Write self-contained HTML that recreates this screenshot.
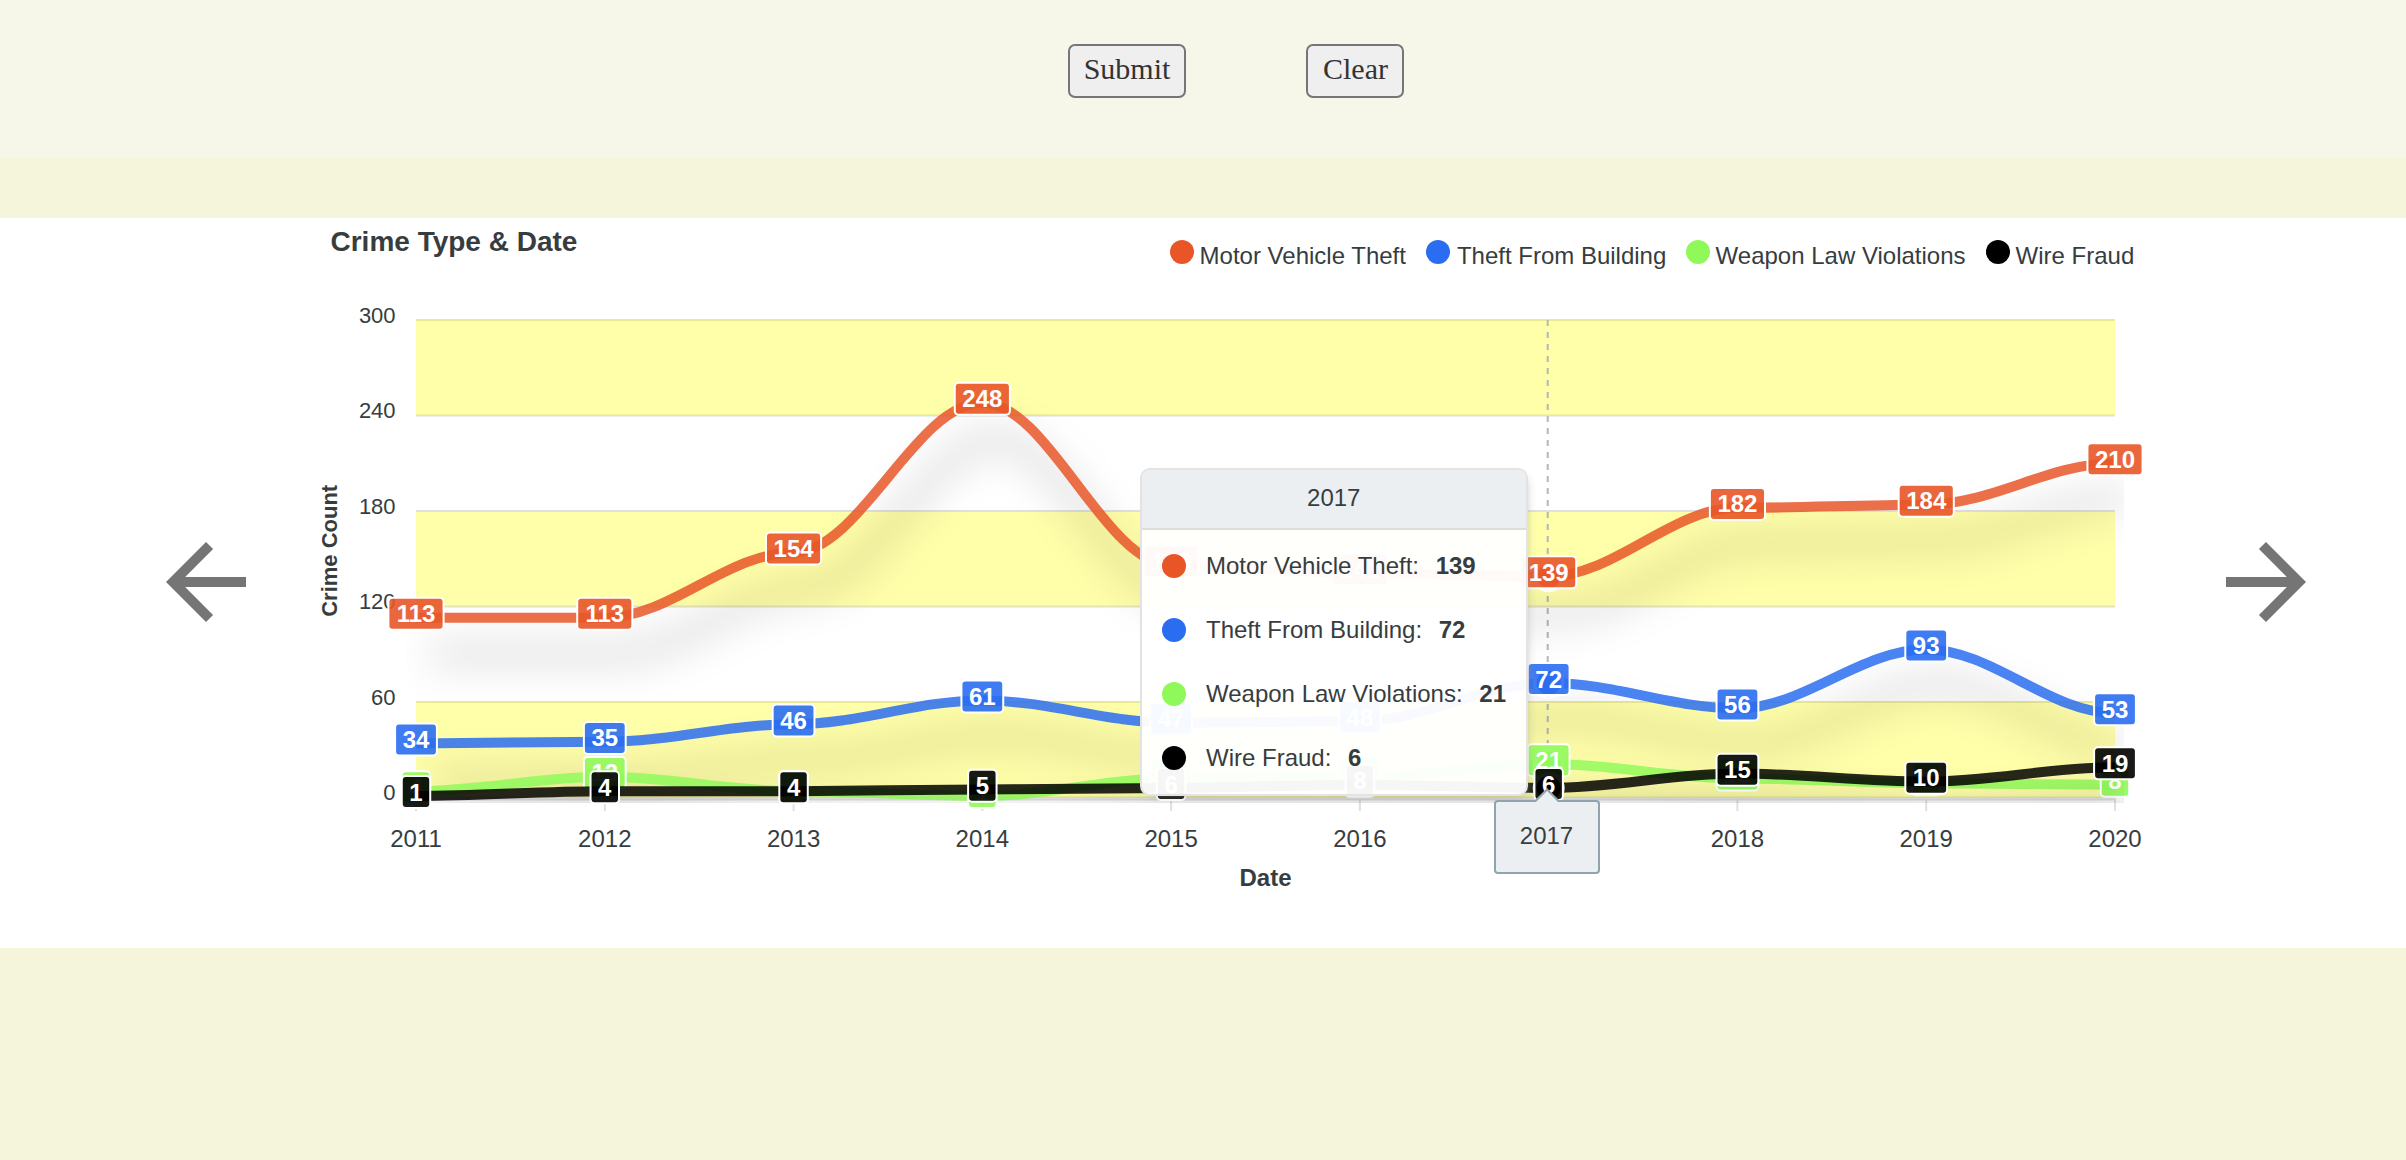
<!DOCTYPE html>
<html lang="en"><head><meta charset="utf-8"><title>Crime Type &amp; Date</title>
<style>
html,body{margin:0;padding:0}
body{width:2406px;height:1160px;background:#f5f5dc;position:relative;overflow:hidden;font-family:"Liberation Serif","Times New Roman",serif}
.top{position:absolute;left:0;top:0;width:2406px;height:158px;background:#f7f7e9}
.white{position:absolute;left:0;top:218px;width:2406px;height:730px;background:#fff}
button{position:absolute;box-sizing:border-box;top:44px;height:54px;font-family:"Liberation Serif","Times New Roman",serif;font-size:30px;color:#333;background:#efefef;border:2px solid #767676;border-radius:7px;padding:0 0 5px 1px;margin:0;text-align:center;line-height:43px}
.arrow{position:absolute;top:522px;width:120px;height:120px}
.tip{position:absolute;left:1140px;top:468px;width:387.5px;height:327.5px;box-sizing:border-box;border:2px solid #e3e3e3;border-radius:10px;background:rgba(255,255,255,.96);box-shadow:4px 4px 12px -8px #999;font-family:"Liberation Sans",Helvetica,Arial,sans-serif;font-size:24px;color:#373d3f;overflow:hidden}
.tip .ttl{height:57.5px;background:#eceff1;border-bottom:2px solid #ddd;text-align:center;line-height:55px}
.tip .row{position:absolute;left:0;height:64px;width:100%;white-space:nowrap}
.tip .row i{position:absolute;left:20px;top:20px;width:24px;height:24px;border-radius:50%}
.tip .row span{position:absolute;left:64px;top:0;line-height:64px}
.tip .row b{font-weight:bold;margin-left:10px}
.xtip{position:absolute;left:1493.5px;top:799.5px;width:106px;height:74px;box-sizing:border-box;background:#eceff1;border:2px solid #90a4ae;border-radius:4px;font-family:"Liberation Sans",Helvetica,Arial,sans-serif;font-size:24px;color:#373d3f;text-align:center;line-height:68px}
.xtip:before{content:"";position:absolute;left:50%;top:-14px;margin-left:-12px;border:12px solid transparent;border-top:0;border-bottom:12px solid #90a4ae}
.xtip:after{content:"";position:absolute;left:50%;top:-11px;margin-left:-12px;border:12px solid transparent;border-top:0;border-bottom:12px solid #eceff1}
</style></head><body>
<div class="top"></div>
<button style="left:1067.5px;width:118px">Submit</button>
<button style="left:1306px;width:98px">Clear</button>
<div class="white"></div>
<svg class="arrow" style="left:146px" viewBox="0 0 24 24"><path fill="#757575" d="M20 11H7.83l5.59-5.59L12 4l-8 8 8 8 1.41-1.41L7.83 13H20v-2z"/></svg>
<svg class="arrow" style="left:2206px" viewBox="0 0 24 24"><path fill="#757575" d="M12 4l-1.41 1.41L16.17 11H4v2h12.17l-5.58 5.59L12 20l8-8z"/></svg>
<svg width="2406" height="730" viewBox="0 218 2406 730" style="position:absolute;left:0;top:218px;font-family:'Liberation Sans', Helvetica, Arial, sans-serif">
<defs>
<clipPath id="gclip"><rect x="407.0" y="311.0" width="1717.0" height="492.0"/></clipPath>
<filter id="ds" filterUnits="userSpaceOnUse" x="300" y="200" width="1900" height="700" color-interpolation-filters="sRGB"><feFlood flood-color="#000" flood-opacity="0.34" result="f"/><feComposite in="f" in2="SourceAlpha" operator="in" result="c"/><feOffset in="c" dx="14" dy="36" result="o"/><feGaussianBlur in="o" stdDeviation="20" result="b"/><feMerge><feMergeNode in="b"/><feMergeNode in="SourceGraphic"/></feMerge></filter>
</defs>
<text x="330.5" y="251" font-size="28" font-weight="bold" fill="#373d3f">Crime Type &amp; Date</text>
<circle cx="1182.0" cy="252" r="12" fill="#E85628"/>
<text x="1199.6" y="264" font-size="24" fill="#373d3f">Motor Vehicle Theft</text>
<circle cx="1438.0" cy="252" r="12" fill="#2A6DF0"/>
<text x="1456.9" y="264" font-size="24" fill="#373d3f">Theft From Building</text>
<circle cx="1698.0" cy="252" r="12" fill="#90F95A"/>
<text x="1715.6" y="264" font-size="24" fill="#373d3f">Weapon Law Violations</text>
<circle cx="1998.0" cy="252" r="12" fill="#000000"/>
<text x="2015.6" y="264" font-size="24" fill="#373d3f">Wire Fraud</text>
<rect x="416.0" y="319.00" width="1699.0" height="2" fill="#e0e0e0"/>
<rect x="416.0" y="414.50" width="1699.0" height="2" fill="#e0e0e0"/>
<rect x="416.0" y="510.00" width="1699.0" height="2" fill="#e0e0e0"/>
<rect x="416.0" y="605.50" width="1699.0" height="2" fill="#e0e0e0"/>
<rect x="416.0" y="701.00" width="1699.0" height="2" fill="#e0e0e0"/>
<rect x="416.0" y="796.50" width="1699.0" height="2" fill="#e0e0e0"/>
<rect x="416.0" y="320.0" width="1699.0" height="95.5" fill="#ffff00" fill-opacity="0.335"/>
<rect x="416.0" y="511.0" width="1699.0" height="95.5" fill="#ffff00" fill-opacity="0.335"/>
<rect x="416.0" y="702.0" width="1699.0" height="95.5" fill="#ffff00" fill-opacity="0.335"/>
<rect x="416.0" y="798.5" width="1699.0" height="2" fill="#e0e0e0"/>
<rect x="415.0" y="798" width="2" height="13" fill="#e0e0e0"/>
<rect x="603.8" y="798" width="2" height="13" fill="#e0e0e0"/>
<rect x="792.6" y="798" width="2" height="13" fill="#e0e0e0"/>
<rect x="981.3" y="798" width="2" height="13" fill="#e0e0e0"/>
<rect x="1170.1" y="798" width="2" height="13" fill="#e0e0e0"/>
<rect x="1358.9" y="798" width="2" height="13" fill="#e0e0e0"/>
<rect x="1547.7" y="798" width="2" height="13" fill="#e0e0e0"/>
<rect x="1736.4" y="798" width="2" height="13" fill="#e0e0e0"/>
<rect x="1925.2" y="798" width="2" height="13" fill="#e0e0e0"/>
<rect x="2114.0" y="798" width="2" height="13" fill="#e0e0e0"/>
<text x="395.6" y="322.8" font-size="22" text-anchor="end" fill="#373d3f">300</text>
<text x="395.6" y="418.3" font-size="22" text-anchor="end" fill="#373d3f">240</text>
<text x="395.6" y="513.8" font-size="22" text-anchor="end" fill="#373d3f">180</text>
<text x="395.6" y="609.3" font-size="22" text-anchor="end" fill="#373d3f">120</text>
<text x="395.6" y="704.8" font-size="22" text-anchor="end" fill="#373d3f">60</text>
<text x="395.6" y="800.3" font-size="22" text-anchor="end" fill="#373d3f">0</text>
<text transform="translate(337 550.8) rotate(-90)" font-size="22" font-weight="bold" text-anchor="middle" fill="#373d3f">Crime Count</text>
<text x="416.0" y="846.9" font-size="24" text-anchor="middle" fill="#373d3f">2011</text>
<text x="604.8" y="846.9" font-size="24" text-anchor="middle" fill="#373d3f">2012</text>
<text x="793.6" y="846.9" font-size="24" text-anchor="middle" fill="#373d3f">2013</text>
<text x="982.3" y="846.9" font-size="24" text-anchor="middle" fill="#373d3f">2014</text>
<text x="1171.1" y="846.9" font-size="24" text-anchor="middle" fill="#373d3f">2015</text>
<text x="1359.9" y="846.9" font-size="24" text-anchor="middle" fill="#373d3f">2016</text>
<text x="1737.4" y="846.9" font-size="24" text-anchor="middle" fill="#373d3f">2018</text>
<text x="1926.2" y="846.9" font-size="24" text-anchor="middle" fill="#373d3f">2019</text>
<text x="2115.0" y="846.9" font-size="24" text-anchor="middle" fill="#373d3f">2020</text>
<text x="1265.5" y="886" font-size="24" font-weight="bold" text-anchor="middle" fill="#373d3f">Date</text>
<line x1="1547.7" y1="320" x2="1547.7" y2="797.5" stroke="#b6b6b6" stroke-width="2" stroke-dasharray="6 6"/>
<g clip-path="url(#gclip)"><path d="M416.00 617.64C482.07 617.64 538.71 617.64 604.78 617.64C670.85 617.64 727.48 552.38 793.56 552.38C859.63 552.38 916.26 402.77 982.33 402.77C1048.41 402.77 1105.04 565.12 1171.11 565.12C1237.18 565.12 1293.82 573.08 1359.89 573.08C1425.96 573.08 1482.59 576.26 1548.67 576.26C1614.74 576.26 1671.37 507.82 1737.44 507.82C1803.52 507.82 1860.15 504.63 1926.22 504.63C1992.29 504.63 2048.93 463.25 2115.00 463.25" fill="none" stroke="#E85628" stroke-opacity="0.85" stroke-width="10" stroke-linecap="butt" filter="url(#ds)"/></g>
<circle cx="1548.7" cy="576.3" r="14" fill="#E85628" stroke="#fff" stroke-width="4" opacity="0.9"/>
<rect x="388.43" y="597.74" width="55.15" height="32.00" rx="4" fill="#E85628" fill-opacity="0.9" stroke="#fff" stroke-width="2"/>
<text x="416.00" y="622.24" font-size="24" font-weight="bold" text-anchor="middle" fill="#fff">113</text>
<rect x="577.20" y="597.74" width="55.15" height="32.00" rx="4" fill="#E85628" fill-opacity="0.9" stroke="#fff" stroke-width="2"/>
<text x="604.78" y="622.24" font-size="24" font-weight="bold" text-anchor="middle" fill="#fff">113</text>
<rect x="765.98" y="532.48" width="55.15" height="32.00" rx="4" fill="#E85628" fill-opacity="0.9" stroke="#fff" stroke-width="2"/>
<text x="793.56" y="556.98" font-size="24" font-weight="bold" text-anchor="middle" fill="#fff">154</text>
<rect x="954.76" y="382.87" width="55.15" height="32.00" rx="4" fill="#E85628" fill-opacity="0.9" stroke="#fff" stroke-width="2"/>
<text x="982.33" y="407.37" font-size="24" font-weight="bold" text-anchor="middle" fill="#fff">248</text>
<rect x="1143.54" y="545.22" width="55.15" height="32.00" rx="4" fill="#E85628" fill-opacity="0.9" stroke="#fff" stroke-width="2"/>
<text x="1171.11" y="569.72" font-size="24" font-weight="bold" text-anchor="middle" fill="#fff">146</text>
<rect x="1332.31" y="553.18" width="55.15" height="32.00" rx="4" fill="#E85628" fill-opacity="0.9" stroke="#fff" stroke-width="2"/>
<text x="1359.89" y="577.68" font-size="24" font-weight="bold" text-anchor="middle" fill="#fff">141</text>
<rect x="1521.09" y="556.36" width="55.15" height="32.00" rx="4" fill="#E85628" fill-opacity="0.9" stroke="#fff" stroke-width="2"/>
<text x="1548.67" y="580.86" font-size="24" font-weight="bold" text-anchor="middle" fill="#fff">139</text>
<rect x="1709.87" y="487.92" width="55.15" height="32.00" rx="4" fill="#E85628" fill-opacity="0.9" stroke="#fff" stroke-width="2"/>
<text x="1737.44" y="512.42" font-size="24" font-weight="bold" text-anchor="middle" fill="#fff">182</text>
<rect x="1898.65" y="484.73" width="55.15" height="32.00" rx="4" fill="#E85628" fill-opacity="0.9" stroke="#fff" stroke-width="2"/>
<text x="1926.22" y="509.23" font-size="24" font-weight="bold" text-anchor="middle" fill="#fff">184</text>
<rect x="2087.43" y="443.35" width="55.15" height="32.00" rx="4" fill="#E85628" fill-opacity="0.9" stroke="#fff" stroke-width="2"/>
<text x="2115.00" y="467.85" font-size="24" font-weight="bold" text-anchor="middle" fill="#fff">210</text>
<g clip-path="url(#gclip)"><path d="M416.00 743.38C482.07 743.38 538.71 741.79 604.78 741.79C670.85 741.79 727.48 724.28 793.56 724.28C859.63 724.28 916.26 700.41 982.33 700.41C1048.41 700.41 1105.04 722.69 1171.11 722.69C1237.18 722.69 1293.82 721.10 1359.89 721.10C1425.96 721.10 1482.59 682.90 1548.67 682.90C1614.74 682.90 1671.37 708.37 1737.44 708.37C1803.52 708.37 1860.15 649.48 1926.22 649.48C1992.29 649.48 2048.93 713.14 2115.00 713.14" fill="none" stroke="#2A6DF0" stroke-opacity="0.85" stroke-width="10" stroke-linecap="butt" filter="url(#ds)"/></g>
<circle cx="1548.7" cy="682.9" r="14" fill="#2A6DF0" stroke="#fff" stroke-width="4" opacity="0.9"/>
<rect x="395.10" y="723.48" width="41.80" height="32.00" rx="4" fill="#2A6DF0" fill-opacity="0.9" stroke="#fff" stroke-width="2"/>
<text x="416.00" y="747.98" font-size="24" font-weight="bold" text-anchor="middle" fill="#fff">34</text>
<rect x="583.88" y="721.89" width="41.80" height="32.00" rx="4" fill="#2A6DF0" fill-opacity="0.9" stroke="#fff" stroke-width="2"/>
<text x="604.78" y="746.39" font-size="24" font-weight="bold" text-anchor="middle" fill="#fff">35</text>
<rect x="772.66" y="704.38" width="41.80" height="32.00" rx="4" fill="#2A6DF0" fill-opacity="0.9" stroke="#fff" stroke-width="2"/>
<text x="793.56" y="728.88" font-size="24" font-weight="bold" text-anchor="middle" fill="#fff">46</text>
<rect x="961.43" y="680.51" width="41.80" height="32.00" rx="4" fill="#2A6DF0" fill-opacity="0.9" stroke="#fff" stroke-width="2"/>
<text x="982.33" y="705.01" font-size="24" font-weight="bold" text-anchor="middle" fill="#fff">61</text>
<rect x="1150.21" y="702.79" width="41.80" height="32.00" rx="4" fill="#2A6DF0" fill-opacity="0.9" stroke="#fff" stroke-width="2"/>
<text x="1171.11" y="727.29" font-size="24" font-weight="bold" text-anchor="middle" fill="#fff">47</text>
<rect x="1338.99" y="701.20" width="41.80" height="32.00" rx="4" fill="#2A6DF0" fill-opacity="0.9" stroke="#fff" stroke-width="2"/>
<text x="1359.89" y="725.70" font-size="24" font-weight="bold" text-anchor="middle" fill="#fff">48</text>
<rect x="1527.77" y="663.00" width="41.80" height="32.00" rx="4" fill="#2A6DF0" fill-opacity="0.9" stroke="#fff" stroke-width="2"/>
<text x="1548.67" y="687.50" font-size="24" font-weight="bold" text-anchor="middle" fill="#fff">72</text>
<rect x="1716.54" y="688.47" width="41.80" height="32.00" rx="4" fill="#2A6DF0" fill-opacity="0.9" stroke="#fff" stroke-width="2"/>
<text x="1737.44" y="712.97" font-size="24" font-weight="bold" text-anchor="middle" fill="#fff">56</text>
<rect x="1905.32" y="629.58" width="41.80" height="32.00" rx="4" fill="#2A6DF0" fill-opacity="0.9" stroke="#fff" stroke-width="2"/>
<text x="1926.22" y="654.08" font-size="24" font-weight="bold" text-anchor="middle" fill="#fff">93</text>
<rect x="2094.10" y="693.24" width="41.80" height="32.00" rx="4" fill="#2A6DF0" fill-opacity="0.9" stroke="#fff" stroke-width="2"/>
<text x="2115.00" y="717.74" font-size="24" font-weight="bold" text-anchor="middle" fill="#fff">53</text>
<g clip-path="url(#gclip)"><path d="M416.00 791.13C482.07 791.13 538.71 776.81 604.78 776.81C670.85 776.81 727.48 791.13 793.56 791.13C859.63 791.13 916.26 795.91 982.33 795.91C1048.41 795.91 1105.04 778.40 1171.11 778.40C1237.18 778.40 1293.82 776.81 1359.89 776.81C1425.96 776.81 1482.59 764.08 1548.67 764.08C1614.74 764.08 1671.37 778.40 1737.44 778.40C1803.52 778.40 1860.15 783.17 1926.22 783.17C1992.29 783.17 2048.93 784.77 2115.00 784.77" fill="none" stroke="#90F95A" stroke-opacity="0.85" stroke-width="10" stroke-linecap="butt" filter="url(#ds)"/></g>
<circle cx="1548.7" cy="764.1" r="14" fill="#90F95A" stroke="#fff" stroke-width="4" opacity="0.9"/>
<rect x="401.77" y="771.23" width="28.45" height="32.00" rx="4" fill="#90F95A" fill-opacity="0.9" stroke="#fff" stroke-width="2"/>
<text x="416.00" y="795.73" font-size="24" font-weight="bold" text-anchor="middle" fill="#fff">4</text>
<rect x="583.88" y="756.91" width="41.80" height="32.00" rx="4" fill="#90F95A" fill-opacity="0.9" stroke="#fff" stroke-width="2"/>
<text x="604.78" y="781.41" font-size="24" font-weight="bold" text-anchor="middle" fill="#fff">13</text>
<rect x="779.33" y="771.23" width="28.45" height="32.00" rx="4" fill="#90F95A" fill-opacity="0.9" stroke="#fff" stroke-width="2"/>
<text x="793.56" y="795.73" font-size="24" font-weight="bold" text-anchor="middle" fill="#fff">4</text>
<rect x="968.11" y="776.01" width="28.45" height="32.00" rx="4" fill="#90F95A" fill-opacity="0.9" stroke="#fff" stroke-width="2"/>
<text x="982.33" y="800.51" font-size="24" font-weight="bold" text-anchor="middle" fill="#fff">1</text>
<rect x="1150.21" y="758.50" width="41.80" height="32.00" rx="4" fill="#90F95A" fill-opacity="0.9" stroke="#fff" stroke-width="2"/>
<text x="1171.11" y="783.00" font-size="24" font-weight="bold" text-anchor="middle" fill="#fff">12</text>
<rect x="1338.99" y="756.91" width="41.80" height="32.00" rx="4" fill="#90F95A" fill-opacity="0.9" stroke="#fff" stroke-width="2"/>
<text x="1359.89" y="781.41" font-size="24" font-weight="bold" text-anchor="middle" fill="#fff">13</text>
<rect x="1527.77" y="744.18" width="41.80" height="32.00" rx="4" fill="#90F95A" fill-opacity="0.9" stroke="#fff" stroke-width="2"/>
<text x="1548.67" y="768.68" font-size="24" font-weight="bold" text-anchor="middle" fill="#fff">21</text>
<rect x="1716.54" y="758.50" width="41.80" height="32.00" rx="4" fill="#90F95A" fill-opacity="0.9" stroke="#fff" stroke-width="2"/>
<text x="1737.44" y="783.00" font-size="24" font-weight="bold" text-anchor="middle" fill="#fff">12</text>
<rect x="1912.00" y="763.27" width="28.45" height="32.00" rx="4" fill="#90F95A" fill-opacity="0.9" stroke="#fff" stroke-width="2"/>
<text x="1926.22" y="787.77" font-size="24" font-weight="bold" text-anchor="middle" fill="#fff">9</text>
<rect x="2100.78" y="764.87" width="28.45" height="32.00" rx="4" fill="#90F95A" fill-opacity="0.9" stroke="#fff" stroke-width="2"/>
<text x="2115.00" y="789.37" font-size="24" font-weight="bold" text-anchor="middle" fill="#fff">8</text>
<g clip-path="url(#gclip)"><path d="M416.00 795.91C482.07 795.91 538.71 791.13 604.78 791.13C670.85 791.13 727.48 791.13 793.56 791.13C859.63 791.13 916.26 789.54 982.33 789.54C1048.41 789.54 1105.04 787.95 1171.11 787.95C1237.18 787.95 1293.82 784.77 1359.89 784.77C1425.96 784.77 1482.59 787.95 1548.67 787.95C1614.74 787.95 1671.37 773.62 1737.44 773.62C1803.52 773.62 1860.15 781.58 1926.22 781.58C1992.29 781.58 2048.93 767.26 2115.00 767.26" fill="none" stroke="#000000" stroke-opacity="0.85" stroke-width="10" stroke-linecap="butt" filter="url(#ds)"/></g>
<circle cx="1548.7" cy="788.0" r="14" fill="#000000" stroke="#fff" stroke-width="4" opacity="0.9"/>
<rect x="401.77" y="776.01" width="28.45" height="32.00" rx="4" fill="#000000" fill-opacity="0.9" stroke="#fff" stroke-width="2"/>
<text x="416.00" y="800.51" font-size="24" font-weight="bold" text-anchor="middle" fill="#fff">1</text>
<rect x="590.55" y="771.23" width="28.45" height="32.00" rx="4" fill="#000000" fill-opacity="0.9" stroke="#fff" stroke-width="2"/>
<text x="604.78" y="795.73" font-size="24" font-weight="bold" text-anchor="middle" fill="#fff">4</text>
<rect x="779.33" y="771.23" width="28.45" height="32.00" rx="4" fill="#000000" fill-opacity="0.9" stroke="#fff" stroke-width="2"/>
<text x="793.56" y="795.73" font-size="24" font-weight="bold" text-anchor="middle" fill="#fff">4</text>
<rect x="968.11" y="769.64" width="28.45" height="32.00" rx="4" fill="#000000" fill-opacity="0.9" stroke="#fff" stroke-width="2"/>
<text x="982.33" y="794.14" font-size="24" font-weight="bold" text-anchor="middle" fill="#fff">5</text>
<rect x="1156.89" y="768.05" width="28.45" height="32.00" rx="4" fill="#000000" fill-opacity="0.9" stroke="#fff" stroke-width="2"/>
<text x="1171.11" y="792.55" font-size="24" font-weight="bold" text-anchor="middle" fill="#fff">6</text>
<rect x="1345.66" y="764.87" width="28.45" height="32.00" rx="4" fill="#000000" fill-opacity="0.9" stroke="#fff" stroke-width="2"/>
<text x="1359.89" y="789.37" font-size="24" font-weight="bold" text-anchor="middle" fill="#fff">8</text>
<rect x="1534.44" y="768.05" width="28.45" height="32.00" rx="4" fill="#000000" fill-opacity="0.9" stroke="#fff" stroke-width="2"/>
<text x="1548.67" y="792.55" font-size="24" font-weight="bold" text-anchor="middle" fill="#fff">6</text>
<rect x="1716.54" y="753.73" width="41.80" height="32.00" rx="4" fill="#000000" fill-opacity="0.9" stroke="#fff" stroke-width="2"/>
<text x="1737.44" y="778.23" font-size="24" font-weight="bold" text-anchor="middle" fill="#fff">15</text>
<rect x="1905.32" y="761.68" width="41.80" height="32.00" rx="4" fill="#000000" fill-opacity="0.9" stroke="#fff" stroke-width="2"/>
<text x="1926.22" y="786.18" font-size="24" font-weight="bold" text-anchor="middle" fill="#fff">10</text>
<rect x="2094.10" y="747.36" width="41.80" height="32.00" rx="4" fill="#000000" fill-opacity="0.9" stroke="#fff" stroke-width="2"/>
<text x="2115.00" y="771.86" font-size="24" font-weight="bold" text-anchor="middle" fill="#fff">19</text>
</svg>
<div class="tip"><div class="ttl">2017</div>
<div class="row" style="top:64px"><i style="background:#E85628"></i><span>Motor Vehicle Theft: <b>139</b></span></div>
<div class="row" style="top:128px"><i style="background:#2A6DF0"></i><span>Theft From Building: <b>72</b></span></div>
<div class="row" style="top:192px"><i style="background:#90F95A"></i><span>Weapon Law Violations: <b>21</b></span></div>
<div class="row" style="top:256px"><i style="background:#000"></i><span>Wire Fraud: <b>6</b></span></div>
</div>
<div class="xtip">2017</div>
</body></html>
